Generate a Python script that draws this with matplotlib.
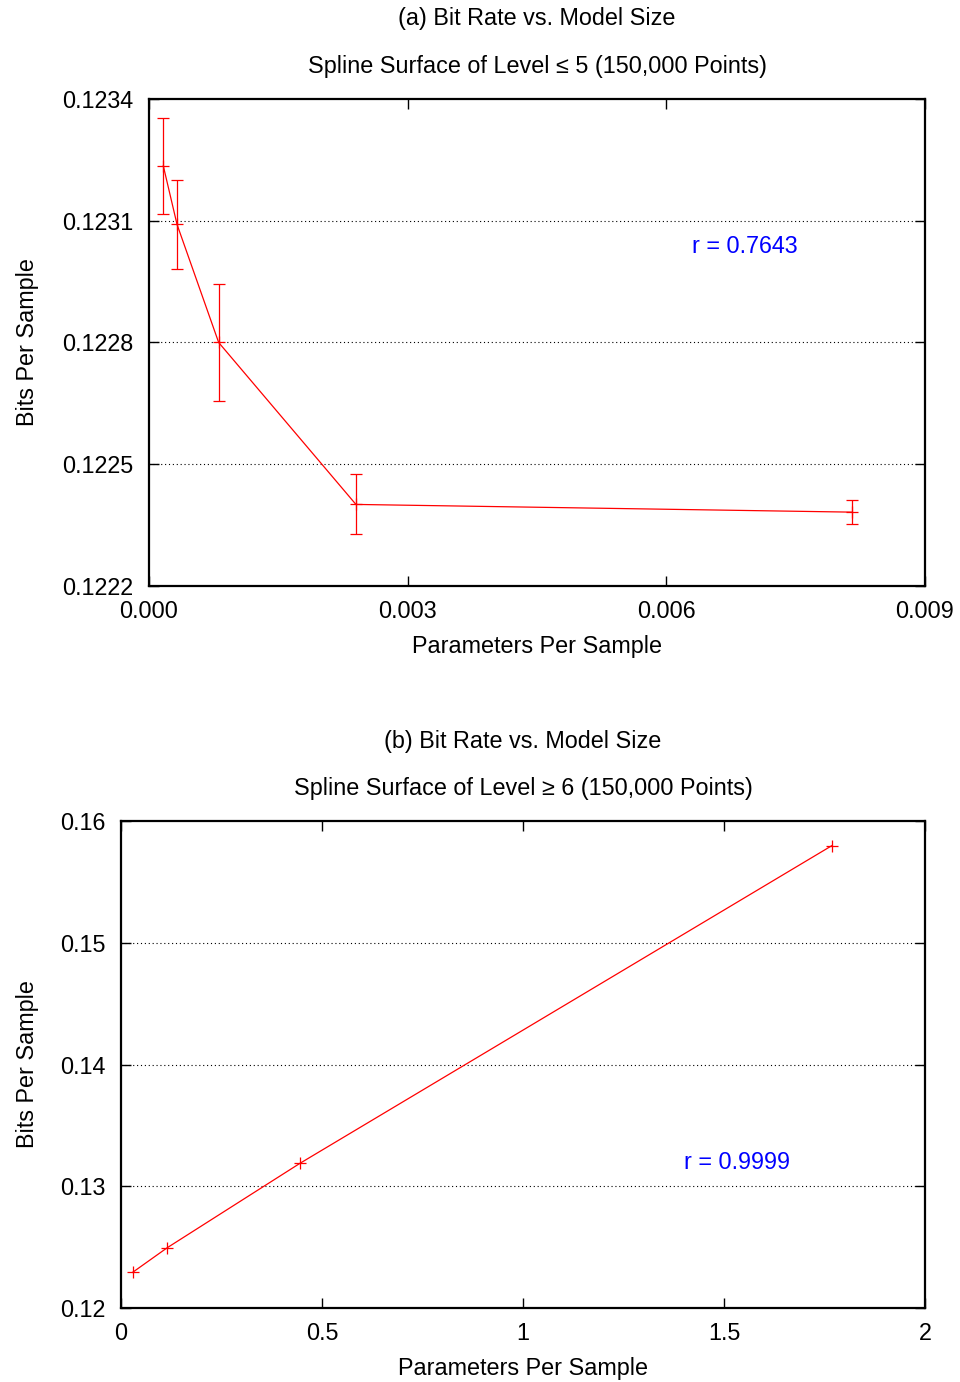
"""Bit rate vs. model size - two panels, gnuplot-like style"""

import matplotlib
matplotlib.use("Agg")
import matplotlib.pyplot as plt
from matplotlib.ticker import FixedLocator

plt.rcParams['font.family'] = ['Liberation Sans', 'DejaVu Sans']
FS = 16.8

# (a) spline surface level <= 5
params_a = [0.000166, 0.000325, 0.000808, 0.00240, 0.008153]
bits_a = [0.123235, 0.123091, 0.122800, 0.122401, 0.122382]
err_a = [0.000119, 0.000110, 0.000143, 0.000074, 0.000030]
xticks_a = [0.000, 0.003, 0.006, 0.009]
yticks_a = [0.1222, 0.1225, 0.1228, 0.1231, 0.1234]

# (b) spline surface level >= 6
params_b = [0.029, 0.115, 0.445, 1.768]
bits_b = [0.12293, 0.12495, 0.13188, 0.15797]
xticks_b = [0, 0.5, 1, 1.5, 2]
yticks_b = [0.12, 0.13, 0.14, 0.15, 0.16]

RED = "#ff0000"
BLUE = "#0000ff"

fig = plt.figure(figsize=(9.6, 13.82), dpi=100)
ax1 = fig.add_axes([149 / 960, 1 - 586 / 1382, 776 / 960, 487 / 1382])
ax2 = fig.add_axes([121 / 960, 1 - 1308 / 1382, 804 / 960, 487 / 1382])


def style_axes(ax, xticks, yticks, xfmt, yfmt, ylab_x):
    ax.set_xlim(xticks[0], xticks[-1])
    ax.set_ylim(yticks[0], yticks[-1])
    ax.xaxis.set_major_locator(FixedLocator(xticks))
    ax.yaxis.set_major_locator(FixedLocator(yticks))
    ax.set_xticklabels([xfmt(v) for v in xticks])
    ax.set_yticklabels([yfmt(v) for v in yticks])
    ax.tick_params(direction="in", length=7, width=1, top=True, right=True,
                   labelsize=FS)
    ax.tick_params(axis="x", pad=10)
    ax.tick_params(axis="y", pad=11)
    for s in ax.spines.values():
        s.set_linewidth(1.6)
    # 水平虚线网格
    for y in yticks[1:-1]:
        ax.axhline(y, color="black", linestyle=(0, (1, 2.5)), linewidth=0.8, zorder=0)
    ax.set_xlabel("Parameters Per Sample", fontsize=FS)
    ax.xaxis.set_label_coords(0.5, -60 / 487)
    ax.xaxis.label.set_va("center")
    ax.set_ylabel("Bits Per Sample", fontsize=FS)
    ax.yaxis.set_label_coords(ylab_x, 0.5)
    ax.yaxis.label.set_va("center")


# 子图 (a)
ax1.errorbar(params_a, bits_a, yerr=err_a, color=RED, linewidth=0.9,
             elinewidth=0.9, capsize=4, capthick=0.9, marker="+",
             markersize=9, markeredgewidth=0.9)
style_axes(ax1, xticks_a, yticks_a, lambda v: f"{v:.3f}", lambda v: f"{v:.4f}",
           -121 / 776)
ax1.text(0.5, 1 + 80 / 487, "(a) Bit Rate vs. Model Size", transform=ax1.transAxes,
         ha="center", va="center", fontsize=FS)
ax1.text(0.5, 1 + 33 / 487, "Spline Surface of Level \u2264 5 (150,000 Points)",
         transform=ax1.transAxes, ha="center", va="center", fontsize=FS)
ax1.text(0.768, 0.698, "r = 0.7643", color=BLUE, transform=ax1.transAxes,
         ha="center", va="center", fontsize=FS)

# 子图 (b)
ax2.plot(params_b, bits_b, color=RED, linewidth=0.9, marker="+",
         markersize=9, markeredgewidth=0.9)
style_axes(ax2, xticks_b, yticks_b, lambda v: f"{v:g}", lambda v: f"{v:.2f}",
           -93 / 804)
ax2.text(0.5, 1 + 80 / 487, "(b) Bit Rate vs. Model Size", transform=ax2.transAxes,
         ha="center", va="center", fontsize=FS)
ax2.text(0.5, 1 + 33 / 487, "Spline Surface of Level \u2265 6 (150,000 Points)",
         transform=ax2.transAxes, ha="center", va="center", fontsize=FS)
ax2.text(0.766, 0.298, "r = 0.9999", color=BLUE, transform=ax2.transAxes,
         ha="center", va="center", fontsize=FS)

plt.savefig("out.png", dpi=100)
plt.close()
